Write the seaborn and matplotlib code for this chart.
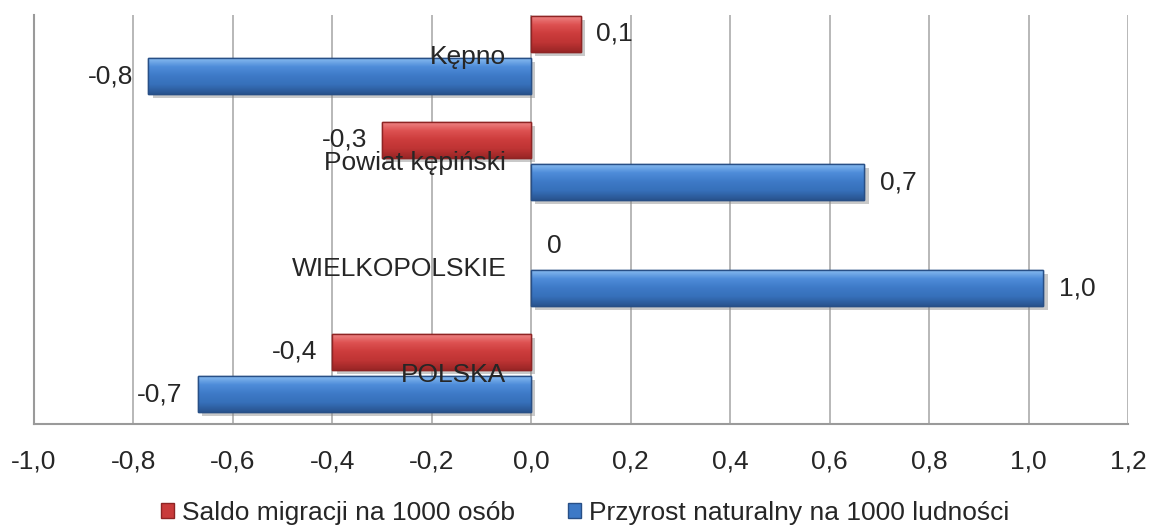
import numpy as np
import pandas as pd
import matplotlib
matplotlib.use("Agg")
import matplotlib.pyplot as plt
import matplotlib.patheffects as pe
from matplotlib.colors import LinearSegmentedColormap
from matplotlib.patches import Patch
import seaborn as sns

# ---- data ----
regions = ["Kępno", "Powiat kępiński", "WIELKOPOLSKIE", "POLSKA"]
series = ["Saldo migracji na 1000 osób", "Przyrost naturalny na 1000 ludności"]
saldo = [0.1, -0.3, 0.0, -0.4]
przyrost = [-0.77, 0.67, 1.03, -0.67]
xticks = [-1.0, -0.8, -0.6, -0.4, -0.2, 0.0, 0.2, 0.4, 0.6, 0.8, 1.0, 1.2]

df = pd.DataFrame({
    "region": regions * 2,
    "series": [series[0]] * 4 + [series[1]] * 4,
    "value": saldo + przyrost,
})

sns.set_theme(style="white")
plt.rcParams["font.family"] = ["Liberation Sans", "DejaVu Sans"]

FS = 19
base_cols = ["#C93B3B", "#3D79C6"]
edge_cols = ["#8E2424", "#284F86"]
grad_cols = [
    ["#F08A8A", "#DE5252", "#CC3C3C", "#BF3434", "#9A2626"],
    ["#8EC0F2", "#4F8DDA", "#3E7AC7", "#3670BA", "#29548F"],
]

fig = plt.figure(figsize=(11.49, 5.25), dpi=100)
ax = fig.add_axes([34 / 1149, 1 - 424 / 525, (1128 - 34) / 1149, (424 - 15) / 525])

sns.barplot(data=df, y="region", x="value", hue="series", orient="h",
            order=regions, hue_order=series, palette=base_cols,
            width=0.8, gap=0.15, ax=ax, legend=False, zorder=2)

ax.set_xlim(-1.0, 1.2)
ax.set_ylim(3.481, -0.377)

# 3D-like shading on bars
for ci, cont in enumerate(ax.containers):
    cmap = LinearSegmentedColormap.from_list("g%d" % ci, grad_cols[ci])
    grad = np.linspace(0, 1, 64).reshape(-1, 1)
    for p in cont.patches:
        w = p.get_width()
        if abs(w) < 1e-9:
            p.set_visible(False)
            continue
        p.set_edgecolor(edge_cols[ci])
        p.set_linewidth(1.0)
        p.set_path_effects([pe.SimplePatchShadow(offset=(3, -3), shadow_rgbFace="#888888", alpha=0.45),
                            pe.Normal()])
        x0 = min(p.get_x(), p.get_x() + w)
        x1 = max(p.get_x(), p.get_x() + w)
        y0 = p.get_y()
        y1 = y0 + p.get_height()
        im = ax.imshow(grad, cmap=cmap, aspect="auto", origin="upper",
                       extent=(x0, x1, y1, y0), zorder=2.1, interpolation="bilinear")
        im.set_clip_path(p)
        edge = plt.Rectangle((p.get_x(), y0), w, p.get_height(), fill=False,
                             edgecolor=edge_cols[ci], linewidth=1.0, zorder=2.2)
        ax.add_patch(edge)

ax.set_xlim(-1.0, 1.2)
ax.set_ylim(3.481, -0.377)

# value labels
def fmt(v):
    if abs(v) < 1e-9:
        return "0"
    return f"{v:.1f}".replace(".", ",")

for ci, cont in enumerate(ax.containers):
    vals = saldo if ci == 0 else przyrost
    ax.bar_label(cont, labels=[fmt(v) for v in vals], padding=11, fontsize=FS, zorder=5)

# category labels next to the zero axis
for i, r in enumerate(regions):
    ax.annotate(r, xy=(0, i), xytext=(-18, -6.5), textcoords="offset points",
                ha="right", va="baseline", fontsize=FS, zorder=6)

ax.set_yticks([])
ax.set_ylabel("")
ax.set_xlabel("")
ax.set_xticks(xticks)
ax.set_xticklabels([f"{t:.1f}".replace(".", ",") for t in xticks], fontsize=FS)
ax.tick_params(axis="x", length=0, pad=18)

ax.set_axisbelow(True)
ax.grid(axis="x", color="#ABABAB", linewidth=1.2)
for s in ["top", "right"]:
    ax.spines[s].set_visible(False)
for s in ["left", "bottom"]:
    ax.spines[s].set_color("#9A9A9A")
    ax.spines[s].set_linewidth(1.5)

handles = [Patch(facecolor=base_cols[i], edgecolor=edge_cols[i], label=series[i]) for i in range(2)]
fig.legend(handles=handles, loc="center", bbox_to_anchor=(585 / 1149, 1 - 513 / 525),
           ncol=2, frameon=False, fontsize=FS, handlelength=0.5, handleheight=0.5,
           handletextpad=0.3, columnspacing=2.0, borderpad=0)

fig.savefig("out.png", dpi=100)
